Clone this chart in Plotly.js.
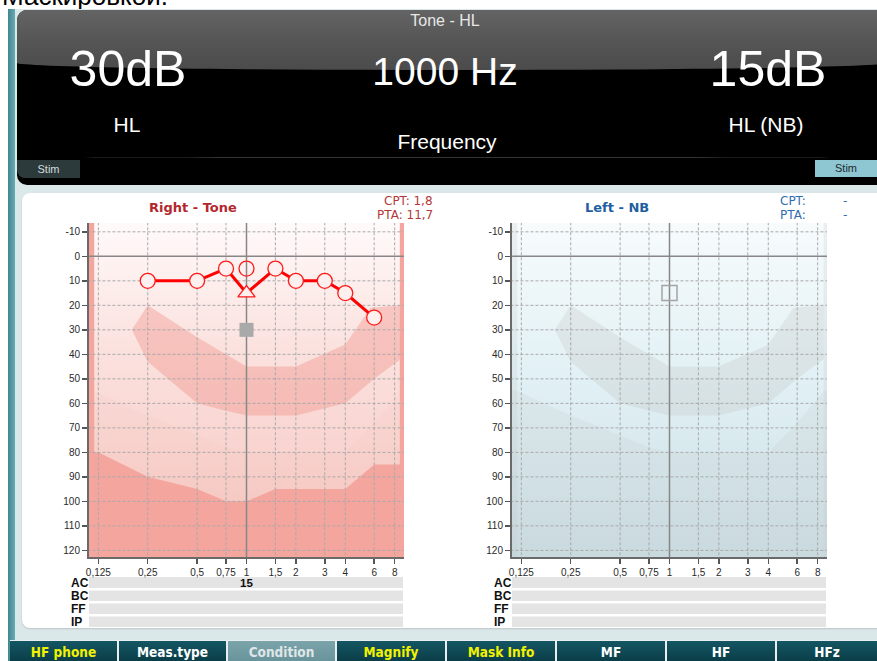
<!DOCTYPE html>
<html>
<head>
<meta charset="utf-8">
<script src="https://cdn.plot.ly/plotly-3.0.1.min.js"></script>
<style>
  html, body { margin:0; padding:0; }
  body { width:877px; height:661px; overflow:hidden; position:relative; background:#ffffff; font-family: "Liberation Sans", Arial, sans-serif; }
  .abs { position:absolute; }
  #cut { left:2px; top:-17px; font-size:26px; line-height:26px; color:#000; white-space:nowrap; }
  #frame { left:8px; top:9px; width:869px; height:652px; background:#dbe8ea; }
  #tealbar { left:8px; top:9px; width:7px; height:652px; background:linear-gradient(90deg,#3f8793,#6aa9b3); }
  #dark { left:17px; top:10px; width:870px; height:175px; background:#000; border-radius:10px 0 0 10px; overflow:hidden; }
  #darktop { left:0; top:0; width:870px; height:60px; background:linear-gradient(180deg,#646464 0%,#575757 45%,#4b4b4b 100%); border-radius:0 0 50% 50% / 0 0 7px 7px; }
  #hline { left:60px; top:147px; width:760px; height:1px; background:#333; border-radius:50%; }
  .big { color:#fff; font-family:"Liberation Sans Narrow","Liberation Sans",Arial,sans-serif; white-space:nowrap; transform:translateX(-50%); }
  #stimL { left:17px; top:160px; width:63px; height:18px; background:#2c3a3c; border-radius:0 0 0 8px; color:#d5dcdc; font-size:11px; line-height:18px; text-align:center; }
  #stimR { left:815px; top:160px; width:62px; height:17px; background:#8ec6d2; color:#1d2b2e; font-size:11px; line-height:17px; text-align:center; }
  #white { left:22px; top:193px; width:870px; height:435px; background:#fff; border-radius:8px; box-shadow:0 1px 2px rgba(0,0,0,0.15); }
  #btnrow { left:10px; top:640px; width:867px; height:21px; background:#e9eef0; }
  .btn { top:641px; height:20px; background:linear-gradient(180deg,#145663,#0a3e48); color:#fff; font-family:"Liberation Sans Narrow","DejaVu Sans Condensed",Arial,sans-serif; font-weight:bold; font-size:13.5px; line-height:23px; text-align:center; }
  .y { color:#f2f200; }
  .sel { background:linear-gradient(180deg,#7aa3aa,#6a949b); color:#dfe6e7; }
  #plot { left:0; top:0; width:877px; height:661px; }
</style>
</head>
<body>
<div id="cut" class="abs">Маскировкой.</div>
<div id="frame" class="abs"></div>
<div id="tealbar" class="abs"></div>
<div id="dark" class="abs">
  <div id="darktop" class="abs"></div>
  <div id="hline" class="abs"></div>
</div>
<div class="abs big" style="left:445px;top:12px;font-size:16px;color:#e8e8e8;">Tone - HL</div>
<div class="abs big" style="left:128px;top:40px;font-size:50px;">30dB</div>
<div class="abs big" style="left:445px;top:50px;font-size:39px;">1000 Hz</div>
<div class="abs big" style="left:768px;top:40px;font-size:50px;">15dB</div>
<div class="abs big" style="left:127px;top:113px;font-size:21px;">HL</div>
<div class="abs big" style="left:447px;top:130px;font-size:21px;">Frequency</div>
<div class="abs big" style="left:766px;top:113px;font-size:21px;">HL (NB)</div>
<div id="stimL" class="abs">Stim</div>
<div id="stimR" class="abs">Stim</div>
<div id="white" class="abs"></div>
<div id="btnrow" class="abs"></div>
<div class="abs btn y" style="left:10px;width:107px;">HF phone</div>
<div class="abs btn" style="left:119px;width:107px;">Meas.type</div>
<div class="abs btn sel" style="left:228px;width:107px;">Condition</div>
<div class="abs btn y" style="left:337px;width:108px;">Magnify</div>
<div class="abs btn y" style="left:447px;width:108px;">Mask Info</div>
<div class="abs btn" style="left:557px;width:108px;">MF</div>
<div class="abs btn" style="left:667px;width:108px;">HF</div>
<div class="abs btn" style="left:777px;width:100px;">HFz</div>
<div id="plot" class="abs"></div>
<script>
// ---------- data ----------
const freqTicks = [0.125, 0.25, 0.5, 0.75, 1, 1.5, 2, 3, 4, 6, 8];
const freqTickText = ["0,125", "0,25", "0,5", "0,75", "1", "1,5", "2", "3", "4", "6", "8"];
const dbTicks = [-10, 0, 10, 20, 30, 40, 50, 60, 70, 80, 90, 100, 110, 120];
const dbTickText = ["-10", "0", "10", "20", "30", "40", "50", "60", "70", "80", "90", "100", "110", "120"];

// Right ear, air conduction
const acFreq = [0.25, 0.5, 0.75, 1, 1.5, 2, 3, 4, 6];
const acDb = [10, 10, 5, 15, 5, 10, 10, 15, 25];
const acSymbol = ["circle", "circle", "circle", "triangle-up", "circle", "circle", "circle", "circle", "circle"];
// current stimulus point (right)
const curFreq = [1];
const curDb = [5];
// masking level (grey filled square)
const maskFreq = [1];
const maskDb = [30];
// left ear NB
const nbFreq = [1];
const nbDb = [15];
// AC row value
const acRowFreq = [1];
const acRowText = ["15"];
// reference lines
const refFreq = 1;
const refDb = 0;

// background zones
const bgFreq = [0.1, 10, 10, 0.1];
const bgDb = [-20, -20, 130, 130];
const bananaFreq = [0.2, 0.25, 0.5, 1, 2, 4, 5.7, 8.7, 8.7, 6, 4, 2, 1, 0.75, 0.5, 0.25, 0.2];
const bananaDb = [30, 20, 33, 45, 45, 36, 21, 20, 42, 50, 60, 65, 65, 63, 60, 43, 30];
const lowerFreq = [0.1, 0.118, 0.25, 0.5, 0.75, 1, 2, 4, 6, 8.7, 10, 10, 0.1];
const lowerDb = [54, 55, 65, 73, 78, 80, 80, 80, 68, 55, 55, 130, 130];
const limitFreq = [0.1, 0.118, 0.118, 0.125, 0.25, 0.5, 0.75, 1, 1.5, 2, 4, 6, 8.6, 8.6, 10, 10, 0.1];
const limitDb = [-20, -20, 80, 80, 90, 95, 100, 100, 95, 95, 95, 85, 85, -20, -20, 130, 130];
const stripFreq = [0.1, 0.118, 0.118, 0.1, null, 8.7, 10, 10, 8.7];
const stripDb = [-20, -20, 130, 130, null, -20, -20, 130, 130];

// ---------- layout helpers ----------
const W = 877, H = 661;
const px = v => v / W;
const py = v => 1 - v / H;
const yDom = [py(557), py(223)];
const xRange = [-0.96, 0.96];
const yRange = [122.7, -13.6];
const fMin = 0.1, fMax = 10, dMin = -20, dMax = 130;

function xaxisDef(dom, anchor) {
  return {
    domain: dom, type: 'log', range: xRange, anchor: anchor,
    tickvals: freqTicks, ticktext: freqTickText,
    showgrid: false,
    showline: true, linecolor: '#6a6a6a', linewidth: 2,
    ticks: 'outside', ticklen: 5, tickcolor: '#555', tickwidth: 1.5,
    tickfont: { size: 10, color: '#2a2a2a', family: 'Liberation Sans, Arial' },
    zeroline: false, fixedrange: true
  };
}
function yaxisDef(anchor) {
  return {
    domain: yDom, range: yRange, anchor: anchor,
    tickvals: dbTicks, ticktext: dbTickText,
    showgrid: false,
    showline: true, linecolor: '#6a6a6a', linewidth: 2,
    ticks: 'outside', ticklen: 5, tickcolor: '#555', tickwidth: 1.5,
    tickfont: { size: 10, color: '#2a2a2a', family: 'Liberation Sans, Arial' },
    zeroline: false, fixedrange: true
  };
}

// dashed grid drawn as traces so it lies above the coloured zones
function gridTraces(xa, ya) {
  const gx = [], gy = [];
  freqTicks.forEach(f => { if (f !== refFreq) { gx.push(f, f, null); gy.push(dMin, dMax, null); } });
  dbTicks.forEach(d => { if (d !== refDb) { gx.push(fMin, fMax, null); gy.push(d, d, null); } });
  return [
    { x: gx, y: gy, xaxis: xa, yaxis: ya, mode: 'lines', hoverinfo: 'skip', connectgaps: false,
      line: { color: '#a9a9a9', width: 1, dash: '3px,2px' } },
    { x: [refFreq, refFreq, null, fMin, fMax], y: [dMin, dMax, null, refDb, refDb], xaxis: xa, yaxis: ya, mode: 'lines', hoverinfo: 'skip',
      line: { color: '#878787', width: 1.5 } }
  ];
}

const traces = [
  // left (right ear) chart background and zones
  { x: bgFreq, y: bgDb, xaxis: 'x', yaxis: 'y', mode: 'none', fill: 'toself', hoverinfo: 'skip',
    fillcolor: '#fbe6e4',
    fillgradient: { type: 'vertical', start: -13.6, stop: 122.7, colorscale: [[0, '#fffafa'], [0.35, '#fbe3e0'], [0.65, '#f9d5d1'], [1, '#f6c4bf']] } },
  { x: lowerFreq, y: lowerDb, xaxis: 'x', yaxis: 'y', mode: 'none', fill: 'toself', hoverinfo: 'skip', fillcolor: 'rgba(236,150,140,0.05)' },
  { x: bananaFreq, y: bananaDb, xaxis: 'x', yaxis: 'y', mode: 'none', fill: 'toself', hoverinfo: 'skip', fillcolor: 'rgba(238,125,115,0.32)' },
  { x: limitFreq, y: limitDb, xaxis: 'x', yaxis: 'y', mode: 'none', fill: 'toself', hoverinfo: 'skip', fillcolor: '#f4a69e' },
  // right (left ear) chart background and zones
  { x: bgFreq, y: bgDb, xaxis: 'x2', yaxis: 'y2', mode: 'none', fill: 'toself', hoverinfo: 'skip',
    fillcolor: '#e3f1f4',
    fillgradient: { type: 'vertical', start: -13.6, stop: 122.7, colorscale: [[0, '#f7fbfc'], [0.45, '#e2f1f5'], [1, '#cbdfe4']] } },
  { x: lowerFreq, y: lowerDb, xaxis: 'x2', yaxis: 'y2', mode: 'none', fill: 'toself', hoverinfo: 'skip', fillcolor: 'rgba(190,195,195,0.16)' },
  { x: bananaFreq, y: bananaDb, xaxis: 'x2', yaxis: 'y2', mode: 'none', fill: 'toself', hoverinfo: 'skip', fillcolor: 'rgba(195,195,195,0.28)' },
  { x: stripFreq, y: stripDb, xaxis: 'x2', yaxis: 'y2', mode: 'none', fill: 'toself', hoverinfo: 'skip', fillcolor: 'rgba(200,205,205,0.25)' }
].concat(gridTraces('x', 'y'), gridTraces('x2', 'y2'), [
  // data right ear
  { x: maskFreq, y: maskDb, xaxis: 'x', yaxis: 'y', mode: 'markers', hoverinfo: 'skip',
    marker: { symbol: 'square', size: 14, color: '#a9a9a9' } },
  { x: acFreq, y: acDb, xaxis: 'x', yaxis: 'y', mode: 'lines+markers', hoverinfo: 'skip',
    line: { color: '#ff0000', width: 3 },
    marker: { symbol: acSymbol, size: 15, color: '#fdf0ee', line: { color: '#ff1a1a', width: 1.3 } } },
  { x: curFreq, y: curDb, xaxis: 'x', yaxis: 'y', mode: 'markers', hoverinfo: 'skip',
    marker: { symbol: 'circle-open', size: 15, color: '#ff1a1a', line: { width: 1.3 } } },
  // data left ear
  { x: nbFreq, y: nbDb, xaxis: 'x2', yaxis: 'y2', mode: 'markers', hoverinfo: 'skip',
    marker: { symbol: 'square-open', size: 15, color: '#a4a4a4', line: { width: 1.5 } } }
]);

// shapes: AC/BC/FF/IP rows
const shapes = [];
const rowTops = [577, 590.5, 603.5, 616.5];
const rowBots = [588, 601, 614, 627];
[[89, 403], [512, 826]].forEach(([l, r]) => {
  rowTops.forEach((t, i) => {
    shapes.push({ type: 'rect', xref: 'paper', yref: 'paper', x0: px(l), x1: px(r), y0: py(rowBots[i]), y1: py(t), fillcolor: '#e4e4e4', line: { width: 0 }, layer: 'below' });
  });
});

const rowLabels = ['AC', 'BC', 'FF', 'IP'];
const annotations = [];
const ann = (o) => annotations.push(Object.assign({ xref: 'paper', yref: 'paper', showarrow: false, xanchor: 'center', yanchor: 'middle', borderpad: 0 }, o));
[70, 493].forEach(lx => {
  rowLabels.forEach((lab, i) => {
    ann({ x: px(lx), y: py((rowTops[i] + rowBots[i]) / 2), text: '<b>' + lab + '</b>', xanchor: 'left', font: { size: 12, color: '#111', family: 'Liberation Sans, Arial' } });
  });
});
ann({ xref: 'x', x: Math.log10(acRowFreq[0]), y: py(582.5), text: '<b>' + acRowText[0] + '</b>', font: { size: 11.5, color: '#111', family: 'Liberation Sans, Arial' } });
ann({ x: px(193), y: py(208), text: '<b>Right - Tone</b>', font: { size: 13, color: '#b3282d', family: 'DejaVu Sans, Verdana' } });
ann({ x: px(617), y: py(208), text: '<b>Left - NB</b>', font: { size: 13, color: '#1f5f9f', family: 'DejaVu Sans, Verdana' } });
ann({ x: px(434), y: py(201), text: 'CPT: 1,8', xanchor: 'right', font: { size: 12, color: '#b3383a', family: 'DejaVu Sans, Verdana' } });
ann({ x: px(434), y: py(215), text: 'PTA: 11,7', xanchor: 'right', font: { size: 12, color: '#b3383a', family: 'DejaVu Sans, Verdana' } });
ann({ x: px(807), y: py(201), text: 'CPT:', xanchor: 'right', font: { size: 12, color: '#2f6cb0', family: 'DejaVu Sans, Verdana' } });
ann({ x: px(807), y: py(215), text: 'PTA:', xanchor: 'right', font: { size: 12, color: '#2f6cb0', family: 'DejaVu Sans, Verdana' } });
ann({ x: px(845), y: py(201), text: '-', font: { size: 12, color: '#2f6cb0', family: 'DejaVu Sans, Verdana' } });
ann({ x: px(845), y: py(215), text: '-', font: { size: 12, color: '#2f6cb0', family: 'DejaVu Sans, Verdana' } });

const layout = {
  width: W, height: H,
  margin: { l: 0, r: 0, t: 0, b: 0 },
  paper_bgcolor: 'rgba(0,0,0,0)', plot_bgcolor: 'rgba(0,0,0,0)',
  showlegend: false,
  xaxis: xaxisDef([px(89), px(404)], 'y'),
  yaxis: yaxisDef('x'),
  xaxis2: xaxisDef([px(512), px(827)], 'y2'),
  yaxis2: yaxisDef('x2'),
  shapes: shapes,
  annotations: annotations
};

Plotly.newPlot('plot', traces, layout, { staticPlot: true, displayModeBar: false });
</script>
</body>
</html>
